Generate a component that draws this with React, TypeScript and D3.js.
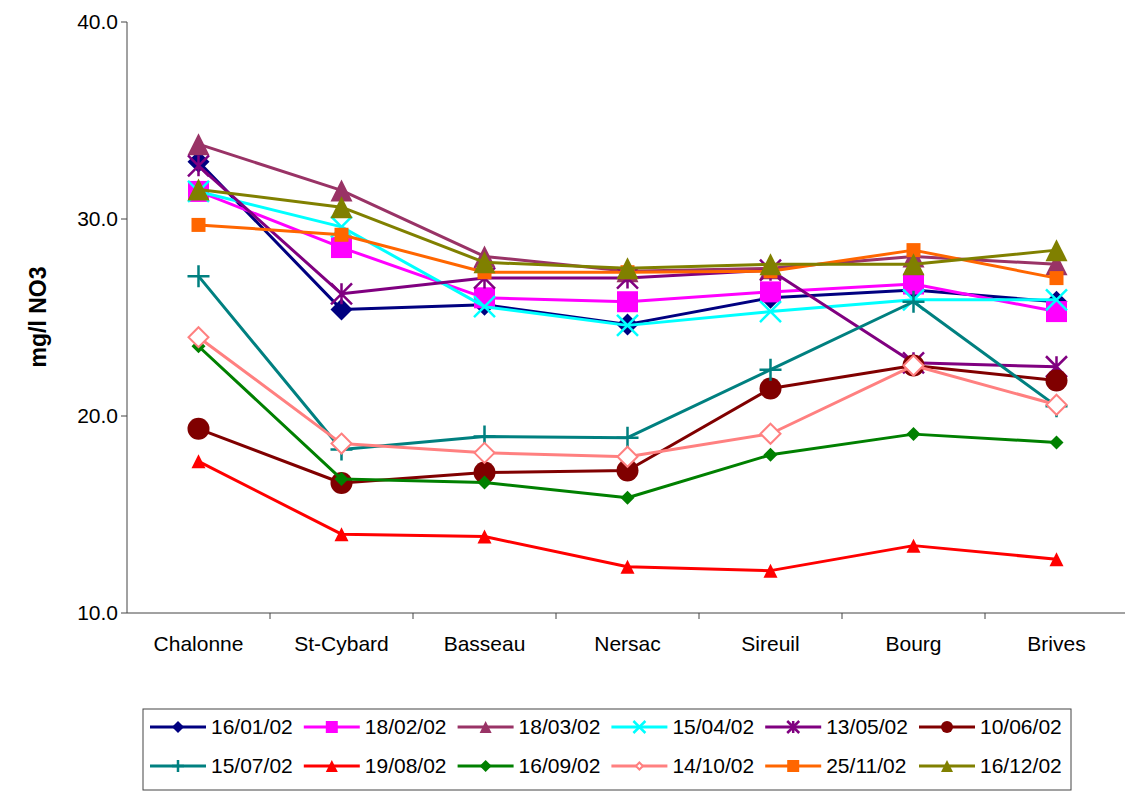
import React from "react";
import * as d3 from "d3";

// Sampling stations along the river
const stations = ["Chalonne", "St-Cybard", "Basseau", "Nersac", "Sireuil", "Bourg", "Brives"];

// Nitrate concentration (mg/l NO3) per sampling date
const s160102 = [32.9, 25.4, 25.65, 24.65, 26.0, 26.4, 25.8];
const s180202 = [31.4, 28.55, 26.0, 25.8, 26.3, 26.7, 25.3];
const s180302 = [33.8, 31.45, 28.1, 27.35, 27.5, 28.1, 27.7];
const s150402 = [31.4, 29.6, 25.55, 24.6, 25.3, 25.9, 25.9];
const s130502 = [32.7, 26.2, 27.0, 27.0, 27.4, 22.7, 22.5];
const s100602 = [19.35, 16.6, 17.13, 17.23, 21.4, 22.56, 21.8];
const s150702 = [27.1, 18.3, 18.96, 18.9, 22.35, 25.8, 20.5];
const s190802 = [17.7, 14.0, 13.88, 12.35, 12.15, 13.42, 12.73];
const s160902 = [23.54, 16.8, 16.62, 15.85, 18.03, 19.08, 18.66];
const s141002 = [24.0, 18.6, 18.13, 17.93, 19.1, 22.56, 20.57];
const s251102 = [29.7, 29.2, 27.3, 27.3, 27.35, 28.42, 27.0];
const s161202 = [31.5, 30.6, 27.8, 27.5, 27.7, 27.7, 28.42];

const dates = [
  "16/01/02", "18/02/02", "18/03/02", "15/04/02", "13/05/02", "10/06/02",
  "15/07/02", "19/08/02", "16/09/02", "14/10/02", "25/11/02", "16/12/02",
];

const yTicks = [10, 20, 30, 40];

type Shape = "diamond" | "square" | "triangle" | "x" | "asterisk" | "circle" | "plus" | "diamondOpen";

const series: { name: string; values: number[]; color: string; shape: Shape; size: number; legendSize: number }[] = [
  { name: dates[0], values: s160102, color: "#000080", shape: "diamond", size: 22, legendSize: 12 },
  { name: dates[1], values: s180202, color: "#FF00FF", shape: "square", size: 21, legendSize: 12 },
  { name: dates[2], values: s180302, color: "#993366", shape: "triangle", size: 22, legendSize: 12 },
  { name: dates[3], values: s150402, color: "#00FFFF", shape: "x", size: 21, legendSize: 12 },
  { name: dates[4], values: s130502, color: "#800080", shape: "asterisk", size: 21, legendSize: 12 },
  { name: dates[5], values: s100602, color: "#800000", shape: "circle", size: 22, legendSize: 12 },
  { name: dates[6], values: s150702, color: "#008080", shape: "plus", size: 22, legendSize: 12 },
  { name: dates[7], values: s190802, color: "#FF0000", shape: "triangle", size: 14, legendSize: 12 },
  { name: dates[8], values: s160902, color: "#008000", shape: "diamond", size: 14, legendSize: 12 },
  { name: dates[9], values: s141002, color: "#FF8080", shape: "diamondOpen", size: 22, legendSize: 9 },
  { name: dates[10], values: s251102, color: "#FF6600", shape: "square", size: 14, legendSize: 12 },
  { name: dates[11], values: s161202, color: "#808000", shape: "triangle", size: 22, legendSize: 12 },
];

const W = 1125;
const H = 791;
const plot = { left: 127, right: 1128, top: 22, bottom: 613 };
const font = "'Liberation Sans', Arial, sans-serif";

const x = d3.scaleBand<string>().domain(stations).range([plot.left, plot.right]).padding(0);
const cx = (s: string) => (x(s) as number) + x.bandwidth() / 2;
const y = d3.scaleLinear().domain([10, 40]).range([plot.bottom, plot.top]);

function Marker({ shape, size, color, px, py }: { shape: Shape; size: number; color: string; px: number; py: number }) {
  const h = size / 2;
  switch (shape) {
    case "diamond":
      return <path d={`M${px},${py - h}L${px + h},${py}L${px},${py + h}L${px - h},${py}Z`} fill={color} />;
    case "diamondOpen":
      return (
        <path
          d={`M${px},${py - h + 1}L${px + h - 1},${py}L${px},${py + h - 1}L${px - h + 1},${py}Z`}
          fill="#fff"
          stroke={color}
          strokeWidth={2}
        />
      );
    case "square":
      return <rect x={px - h} y={py - h} width={size} height={size} fill={color} />;
    case "triangle":
      return <path d={`M${px},${py - h}L${px + h},${py + h}L${px - h},${py + h}Z`} fill={color} />;
    case "circle":
      return <circle cx={px} cy={py} r={h} fill={color} />;
    case "x":
      return (
        <path
          d={`M${px - h},${py - h}L${px + h},${py + h}M${px + h},${py - h}L${px - h},${py + h}`}
          stroke={color}
          strokeWidth={2.5}
        />
      );
    case "asterisk":
      return (
        <path
          d={`M${px - h},${py - h}L${px + h},${py + h}M${px + h},${py - h}L${px - h},${py + h}M${px},${py - h}L${px},${py + h}`}
          stroke={color}
          strokeWidth={2.5}
        />
      );
    case "plus":
      return (
        <path d={`M${px - h},${py}L${px + h},${py}M${px},${py - h}L${px},${py + h}`} stroke={color} strokeWidth={2.5} />
      );
  }
  return null;
}

export default function App() {
  const line = d3
    .line<number>()
    .x((_, i) => cx(stations[i]))
    .y((v) => y(v));

  const legend = { left: 143, top: 709, right: 1071, bottom: 790 };
  const rowY = [727, 766];
  const colX = (c: number) => 150 + c * 153.8;

  return (
    <svg
      width={W}
      height={H}
      style={{ position: "absolute", left: 0, top: 0, background: "#fff" }}
      fontFamily={font}
    >
      <rect width={W} height={H} fill="#fff" />

      {/* axes */}
      <line x1={plot.left} x2={plot.left} y1={plot.top} y2={plot.bottom} stroke="#444" strokeWidth={1} />
      <line x1={plot.left} x2={plot.right} y1={plot.bottom} y2={plot.bottom} stroke="#444" strokeWidth={1} />
      {yTicks.map((t) => (
        <g key={t}>
          <line x1={plot.left - 6} x2={plot.left} y1={y(t)} y2={y(t)} stroke="#444" />
          <text x={118} y={y(t)} dy="0.35em" textAnchor="end" fontSize={21} fill="#000">
            {d3.format(".1f")(t)}
          </text>
        </g>
      ))}
      {stations.map((s, i) => (
        <g key={s}>
          {i > 0 && (
            <line x1={x(s) as number} x2={x(s) as number} y1={plot.bottom} y2={plot.bottom + 6} stroke="#444" />
          )}
          <text x={cx(s)} y={644} dy="0.35em" textAnchor="middle" fontSize={21} fill="#000">
            {s}
          </text>
        </g>
      ))}
      <text
        transform={`translate(38,317) rotate(-90)`}
        textAnchor="middle"
        dy="0.35em"
        fontSize={23}
        fontWeight="bold"
        fill="#000"
      >
        mg/l NO3
      </text>

      {/* series */}
      {series.map((s) => (
        <g key={s.name}>
          <path d={line(s.values) as string} fill="none" stroke={s.color} strokeWidth={3} strokeLinejoin="round" />
          {s.values.map((v, i) => (
            <Marker key={i} shape={s.shape} size={s.size} color={s.color} px={cx(stations[i])} py={y(v)} />
          ))}
        </g>
      ))}

      {/* legend */}
      <rect
        x={legend.left}
        y={legend.top}
        width={legend.right - legend.left}
        height={legend.bottom - legend.top}
        fill="#fff"
        stroke="#444"
        strokeWidth={1}
      />
      {series.map((s, i) => {
        const r = Math.floor(i / 6);
        const c = i % 6;
        const lx = colX(c);
        const ly = rowY[r];
        return (
          <g key={s.name}>
            <line x1={lx} x2={lx + 56} y1={ly} y2={ly} stroke={s.color} strokeWidth={3} />
            <Marker shape={s.shape} size={s.legendSize} color={s.color} px={lx + 28} py={ly} />
            <text x={lx + 61} y={ly} dy="0.35em" fontSize={21} fill="#000">
              {s.name}
            </text>
          </g>
        );
      })}
    </svg>
  );
}
